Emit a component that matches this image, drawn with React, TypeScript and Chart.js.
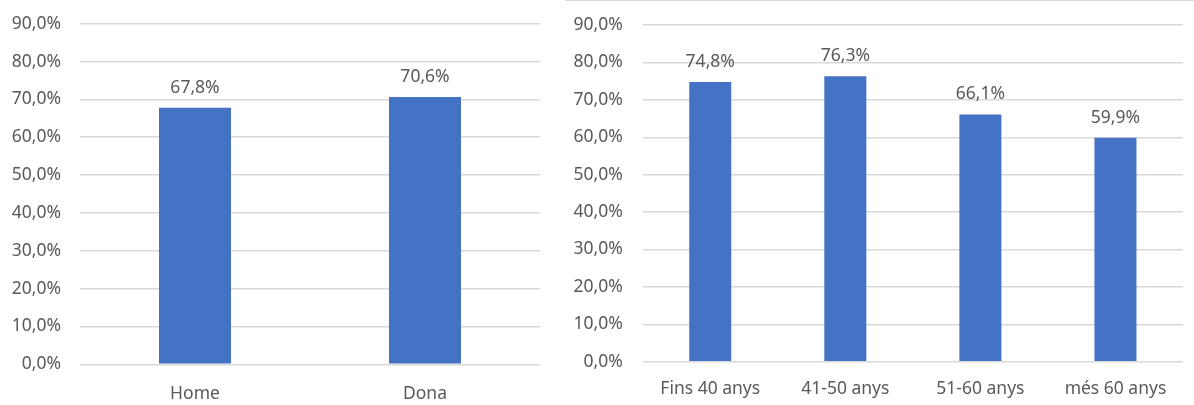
import React, { useEffect, useRef } from "react";
import { Chart, registerables } from "chart.js";

Chart.register(...registerables);

const genderCategories = ["Home", "Dona"];
const genderValues = [0.678, 0.706];

const ageCategories = ["Fins 40 anys", "41-50 anys", "51-60 anys", "més 60 anys"];
const ageValues = [0.748, 0.763, 0.661, 0.599];

const yMin = 0;
const yMax = 0.9;
const yStep = 0.1;

const FONT = "'Noto Sans', sans-serif";
const TEXT = "#595959";
const BAR = "#4472C4";
const GRID = "#D9D9D9";

const fmt = (v: number) => (v * 100).toFixed(1).replace(".", ",") + "%";

const dataLabels = {
  id: "dataLabels",
  afterDatasetsDraw(chart: any) {
    const ctx = chart.ctx;
    ctx.save();
    ctx.font = `17.5px ${FONT}`;
    ctx.fillStyle = TEXT;
    ctx.textAlign = "center";
    ctx.textBaseline = "alphabetic";
    chart.data.datasets.forEach((ds: any, i: number) => {
      const meta = chart.getDatasetMeta(i);
      meta.data.forEach((el: any, j: number) => {
        ctx.fillText(fmt(ds.data[j]), el.x, el.y - 15);
      });
    });
    ctx.restore();
  },
};

type Cfg = {
  labels: string[];
  values: number[];
  width: number;
  height: number;
  yAxisWidth: number;
  xAxisHeight: number;
  padTop: number;
  padRight: number;
  yPad: number;
  xPad: number;
  barPct: number;
};

function BarChart(props: Cfg) {
  const ref = useRef<HTMLCanvasElement>(null);
  useEffect(() => {
    if (!ref.current) return;
    const chart = new Chart(ref.current, {
      type: "bar",
      data: {
        labels: props.labels,
        datasets: [
          {
            data: props.values,
            backgroundColor: BAR,
            borderWidth: 0,
            barPercentage: props.barPct,
            categoryPercentage: 1,
          },
        ],
      },
      options: {
        responsive: false,
        animation: false,
        devicePixelRatio: 1,
        layout: {
          padding: { top: props.padTop, right: props.padRight, left: 0, bottom: 0 },
        },
        plugins: {
          legend: { display: false },
          tooltip: { enabled: false },
        },
        scales: {
          x: {
            grid: { display: false, drawTicks: false },
            border: { display: false },
            ticks: {
              padding: props.xPad,
              color: TEXT,
              font: { family: FONT, size: 17.5 },
              maxRotation: 0,
              autoSkip: false,
            },
            afterFit: (s: any) => {
              s.height = props.xAxisHeight;
            },
          },
          y: {
            min: yMin,
            max: yMax,
            grid: { color: GRID, lineWidth: 1.5, drawTicks: false },
            border: { display: false },
            ticks: {
              stepSize: yStep,
              padding: props.yPad,
              color: TEXT,
              font: { family: FONT, size: 17.5 },
              callback: (v: any) => fmt(Number(v)),
            },
            afterFit: (s: any) => {
              s.width = props.yAxisWidth;
              s.paddingTop = 10;
              s.paddingBottom = 10;
            },
          },
        },
      },
      plugins: [dataLabels],
    });
    return () => chart.destroy();
  }, []);
  return (
    <canvas
      ref={ref}
      width={props.width}
      height={props.height}
      style={{ display: "block", width: props.width, height: props.height }}
    />
  );
}

export default function App() {
  return (
    <div
      style={{
        position: "absolute",
        left: 0,
        top: 0,
        width: 1194,
        height: 405,
        background: "#fff",
        overflow: "hidden",
      }}
    >
      <div style={{ position: "absolute", left: 0, top: 0 }}>
        <BarChart
          labels={genderCategories}
          values={genderValues}
          width={560}
          height={405}
          yAxisWidth={80}
          xAxisHeight={40.7}
          padTop={23.7}
          padRight={20}
          yPad={19}
          xPad={19}
          barPct={0.313}
        />
      </div>
      <div
        style={{
          position: "absolute",
          left: 565,
          top: 0,
          width: 629,
          height: 405,
          borderTop: "1px solid #D9D9D9",
          boxSizing: "border-box",
        }}
      >
        <div style={{ position: "absolute", left: 0, top: -1 }}>
          <BarChart
            labels={ageCategories}
            values={ageValues}
            width={629}
            height={405}
            yAxisWidth={77.7}
            xAxisHeight={43.3}
            padTop={25.1}
            padRight={11}
            yPad={20}
            xPad={17}
            barPct={0.311}
          />
        </div>
      </div>
    </div>
  );
}
